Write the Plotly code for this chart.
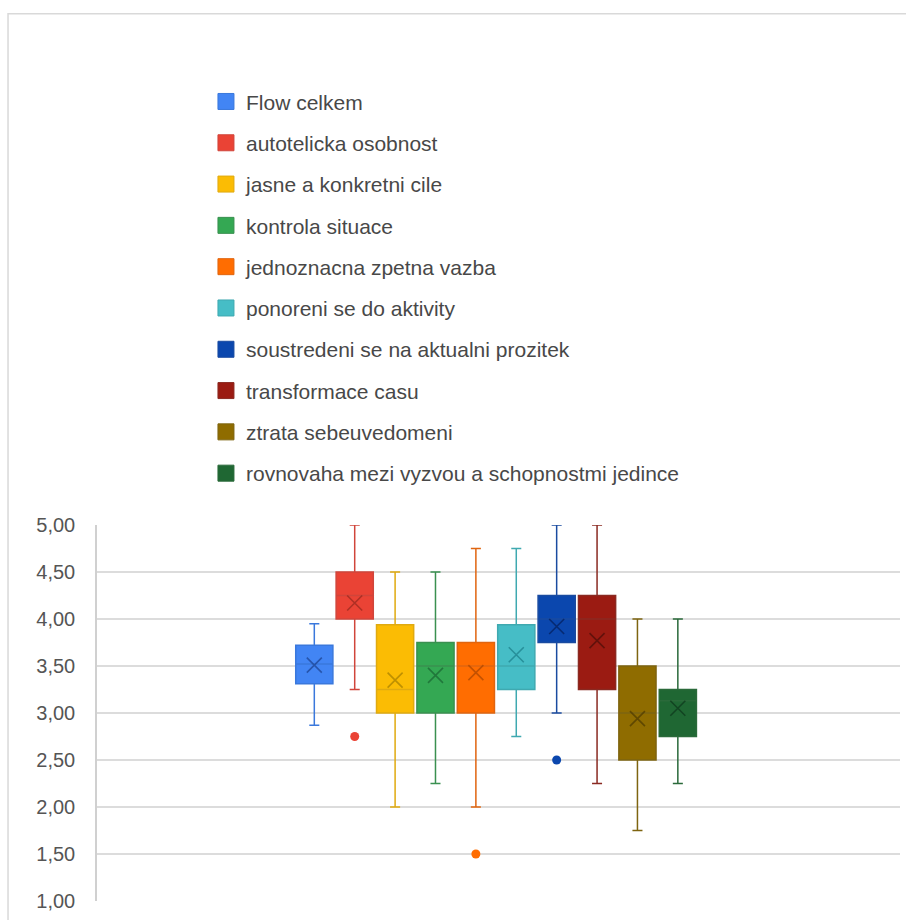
import plotly.graph_objects as go

# Series names (legend order)
names = [
    "Flow celkem",
    "autotelicka osobnost",
    "jasne a konkretni cile",
    "kontrola situace",
    "jednoznacna zpetna vazba",
    "ponoreni se do aktivity",
    "soustredeni se na aktualni prozitek",
    "transformace casu",
    "ztrata sebeuvedomeni",
    "rovnovaha mezi vyzvou a schopnostmi jedince",
]

# Box statistics per series
lower_whisker = [2.87, 3.25, 2.00, 2.25, 2.00, 2.75, 3.00, 2.25, 1.75, 2.25]
q1 = [3.31, 4.00, 3.00, 3.00, 3.00, 3.25, 3.75, 3.25, 2.50, 2.75]
median = [3.52, 4.25, 3.25, 3.50, 3.50, 3.50, 4.00, 4.00, 3.00, 3.13]
q3 = [3.72, 4.50, 3.94, 3.75, 3.75, 3.94, 4.25, 4.25, 3.50, 3.25]
upper_whisker = [3.95, 5.00, 4.50, 4.50, 4.75, 4.75, 5.00, 5.00, 4.00, 4.00]
mean = [3.51, 4.17, 3.35, 3.40, 3.43, 3.62, 3.92, 3.77, 2.94, 3.05]

# Outlying observations (series index, value)
outlier_series = [1, 4, 6]
outlier_values = [2.75, 1.50, 2.50]

# Y axis ticks
y_ticks = [1.0, 1.5, 2.0, 2.5, 3.0, 3.5, 4.0, 4.5, 5.0]

fill_colors = ["#4285F4", "#EA4335", "#FBBC04", "#34A853", "#FF6D01",
               "#46BDC6", "#0B47AE", "#9B1B12", "#8F6C00", "#1F6733"]
line_colors = ["#3A78DC", "#D0453B", "#E0AA10", "#3A9050", "#E06510",
               "#3FA9B0", "#1A4BA0", "#8A2A22", "#7E6410", "#2A6A3A"]
mark_colors = ["rgba(30,70,150,0.75)", "rgba(150,40,30,0.7)", "rgba(170,130,0,0.75)",
               "rgba(25,100,50,0.7)", "rgba(170,70,0,0.7)", "rgba(30,130,140,0.75)",
               "rgba(5,35,100,0.8)", "rgba(80,15,10,0.75)", "rgba(80,60,0,0.75)",
               "rgba(15,60,30,0.8)"]

FONT = "Liberation Sans, Arial, sans-serif"

fig = go.Figure()

for i, name in enumerate(names):
    grp = f"g{i}"
    fig.add_trace(go.Box(
        x=[i], q1=[q1[i]], median=[median[i]], q3=[q3[i]],
        lowerfence=[lower_whisker[i]], upperfence=[upper_whisker[i]],
        width=0.92, whiskerwidth=0.27,
        fillcolor=fill_colors[i],
        line=dict(color=line_colors[i], width=1.5),
        name=name, legendgroup=grp, showlegend=False,
        hoverinfo="skip",
    ))
    # mean marker
    fig.add_trace(go.Scatter(
        x=[i], y=[mean[i]], mode="markers",
        marker=dict(symbol="x-thin", size=15,
                    line=dict(color=mark_colors[i], width=1.6)),
        legendgroup=grp, showlegend=False, hoverinfo="skip",
    ))
    # legend entry
    fig.add_trace(go.Scatter(
        x=[None], y=[None], mode="markers",
        marker=dict(symbol="square", size=16, color=fill_colors[i],
                    line=dict(color=line_colors[i], width=1)),
        name=name, legendgroup=grp, showlegend=True,
    ))

for s, v in zip(outlier_series, outlier_values):
    fig.add_trace(go.Scatter(
        x=[s], y=[v], mode="markers",
        marker=dict(symbol="circle", size=9, color=fill_colors[s]),
        legendgroup=f"g{s}", showlegend=False, hoverinfo="skip",
    ))

# outer frame of the chart panel
fig.add_shape(type="rect", xref="paper", yref="paper",
              x0=-0.1108, x1=1.3, y0=-0.5, y1=2.360,
              line=dict(color="#d9d9d9", width=1.5), layer="below")

fig.update_layout(
    width=906, height=920,
    margin=dict(l=97, r=6, t=525, b=19),
    paper_bgcolor="white", plot_bgcolor="white",
    separators=", ",
    font=dict(family=FONT, color="#555555", size=20),
    boxmode="overlay",
    showlegend=True,
    legend=dict(
        x=0.1357, y=2.18, xanchor="left", yanchor="top",
        font=dict(family=FONT, size=21, color="#484848"),
        tracegroupgap=11, bgcolor="rgba(0,0,0,0)",
        itemclick=False, itemdoubleclick=False,
    ),
    xaxis=dict(range=[-5.38, 14.5], showticklabels=False, showgrid=False,
               zeroline=False, showline=False, fixedrange=True),
    yaxis=dict(range=[1, 5], tickvals=y_ticks, tickformat=".2f",
               showgrid=True, gridcolor="#dcdcdc", gridwidth=1.5,
               zeroline=False, showline=True, linecolor="#d0d0d0", linewidth=1.5,
               ticks="", ticklabelstandoff=16,
               tickfont=dict(family=FONT, size=20, color="#555555"),
               fixedrange=True),
)

fig.write_html("out.html")
